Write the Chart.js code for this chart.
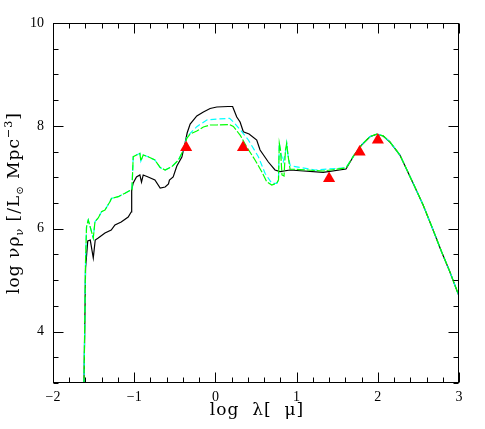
<!DOCTYPE html>
<html>
<head>
<meta charset="utf-8">
<script src="https://cdn.jsdelivr.net/npm/chart.js@4.4.1/dist/chart.umd.min.js"></script>
<style>
html,body{margin:0;padding:0;background:#fff;}
canvas{display:block;}
</style>
</head>
<body>
<canvas id="c" width="485" height="429"></canvas>
<script>
// ---- data (log lambda [micron], log nu rho_nu [L_sun Mpc^-3]) ----
const blackX = [-1.62,-1.599,-1.572,-1.541,-1.504,-1.480,-1.443,-1.360,-1.283,-1.237,-1.160,-1.074,-1.037,-1.031,-1.012,-0.972,-0.930,-0.910,-0.889,-0.828,-0.745,-0.680,-0.619,-0.578,-0.566,-0.520,-0.475,-0.413,-0.373,-0.348,-0.311,-0.229,-0.148,-0.065,0.017,0.156,0.212,0.263,0.304,0.344,0.415,0.509,0.550,0.652,0.734,0.796,0.919,1.328,1.608,1.697,1.801,1.903,1.985,2.066,2.149,2.272,2.435,2.558,2.681,2.785,2.887,3.0];
const blackY = [2.8,5.236,5.761,5.78,5.431,5.78,5.82,5.917,5.975,6.072,6.131,6.228,6.325,6.753,6.889,7.006,7.045,6.908,7.045,7.006,6.947,6.792,6.811,6.870,6.947,7.006,7.220,7.395,7.667,7.861,8.036,8.192,8.270,8.338,8.367,8.376,8.376,8.172,8.075,7.886,7.842,7.725,7.531,7.297,7.142,7.109,7.142,7.097,7.161,7.400,7.628,7.789,7.836,7.803,7.686,7.433,6.883,6.461,5.975,5.553,5.164,4.69];

const greenX = [-1.62,-1.599,-1.587,-1.566,-1.504,-1.483,-1.443,-1.402,-1.360,-1.299,-1.279,-1.197,-1.114,-1.041,-1.028,-1.012,-0.972,-0.930,-0.918,-0.889,-0.828,-0.745,-0.680,-0.619,-0.536,-0.455,-0.394,-0.352,-0.311,-0.229,-0.148,-0.065,0.017,0.175,0.221,0.304,0.386,0.488,0.571,0.632,0.694,0.755,0.777,0.787,0.802,0.820,0.845,0.863,0.878,0.894,0.919,1.042,1.325,1.608,1.697,1.801,1.903,1.985,2.066,2.149,2.272,2.435,2.558,2.681,2.785,2.887,3.0];
const greenY = [2.8,5.4,6.039,6.170,5.820,6.137,6.208,6.331,6.364,6.525,6.591,6.623,6.689,6.753,6.753,7.400,7.433,7.466,7.317,7.433,7.400,7.336,7.190,7.142,7.206,7.336,7.531,7.758,7.842,7.900,7.978,8.017,8.017,8.026,7.988,7.822,7.589,7.336,7.109,6.914,6.850,6.883,6.947,7.661,7.531,7.045,7.025,7.531,7.661,7.433,7.161,7.150,7.122,7.181,7.405,7.632,7.792,7.840,7.806,7.688,7.435,6.885,6.463,5.977,5.555,5.166,4.692];

const cyanX = [-1.62,-1.599,-1.587,-1.566,-1.504,-1.483,-1.443,-1.402,-1.360,-1.299,-1.279,-1.197,-1.114,-1.041,-1.028,-1.012,-0.972,-0.930,-0.918,-0.889,-0.828,-0.745,-0.680,-0.619,-0.536,-0.455,-0.394,-0.352,-0.311,-0.229,-0.106,0.017,0.175,0.237,0.325,0.406,0.529,0.611,0.694,0.755,0.777,0.787,0.800,0.836,0.865,0.878,0.894,0.919,0.940,1.226,1.608,1.697,1.801,1.903,1.985,2.066,2.149,2.272,2.435,2.558,2.681,2.785,2.887,3.0];
const cyanY = [2.8,5.4,6.039,6.170,5.820,6.137,6.208,6.331,6.364,6.525,6.591,6.623,6.689,6.753,6.753,7.400,7.433,7.466,7.317,7.433,7.400,7.336,7.190,7.142,7.206,7.336,7.531,7.780,7.855,7.984,8.114,8.133,8.147,8.050,7.886,7.725,7.400,7.078,6.883,6.883,6.950,7.667,7.500,7.303,7.500,7.661,7.430,7.239,7.220,7.142,7.185,7.405,7.632,7.792,7.840,7.806,7.688,7.435,6.885,6.463,5.977,5.555,5.166,4.692];

const obsX = [-0.36, 0.34, 1.40, 1.776, 2.001];
const obsY = [7.58, 7.58, 6.976, 7.49, 7.725];

const xTickVals = [-2,-1,0,1,2,3];
const xTickLabels = ['\u22122','\u22121','0','1','2','3'];
const yTickVals = [4,6,8,10];
const yTickLabels = ['4','6','8','10'];

function pts(xs, ys){ return xs.map((x,i)=>({x:x, y:ys[i]})); }

const SERIF = "'Liberation Serif','DejaVu Serif',serif";
const TITLE = "'DejaVu Serif','Liberation Serif',serif";

function drawRich(ctx, parts, cx, cy, base, spacing){
  let total = 0;
  ctx.letterSpacing = spacing + 'px';
  parts.forEach(p=>{ ctx.font = (base*(p.s||1)).toFixed(1)+'px '+TITLE; p.w = ctx.measureText(p.t).width; total += p.w; });
  let x = cx - total/2;
  parts.forEach(p=>{
    ctx.font = (base*(p.s||1)).toFixed(1)+'px '+TITLE;
    ctx.fillText(p.t, x, cy + (p.dy||0));
    x += p.w;
  });
  ctx.letterSpacing = '0px';
}

const framePlugin = {
  id: 'frame',
  afterDatasetsDraw(chart){
    const ctx = chart.ctx, a = chart.chartArea, xs = chart.scales.x, ys = chart.scales.y;
    ctx.save();
    ctx.strokeStyle = '#000';
    ctx.lineWidth = 1;
    const L = Math.round(a.left)+0.5, R = Math.round(a.right)-0.5, T = Math.round(a.top)+0.5, B = Math.round(a.bottom)-0.5;
    ctx.strokeRect(L, T, R-L, B-T);
    ctx.beginPath();
    // x ticks: major every 1, minor every 0.2
    for (let k = 0; k <= 25; k++){
      const v = -2 + k*0.2;
      const px = Math.round(xs.getPixelForValue(v)) + 0.5;
      const len = (k % 5 === 0) ? 10 : 5;
      ctx.moveTo(px, B); ctx.lineTo(px, B-len);
      ctx.moveTo(px, T); ctx.lineTo(px, T+len);
    }
    // y ticks: major at labelled values, minor every 0.5
    for (let k = 0; k <= 14; k++){
      const v = 3 + k*0.5;
      const py = Math.round(ys.getPixelForValue(v)) + 0.5;
      const len = yTickVals.includes(v) ? 10 : 5;
      ctx.moveTo(L, py); ctx.lineTo(L+len, py);
      ctx.moveTo(R, py); ctx.lineTo(R-len, py);
    }
    ctx.stroke();
    ctx.restore();
  },
  afterDraw(chart){
    const ctx = chart.ctx, a = chart.chartArea;
    ctx.save();
    ctx.fillStyle = '#000';
    ctx.textBaseline = 'alphabetic';
    // x title
    drawRich(ctx, [{t:'log  \u03bb[  \u03bc]'}], (a.left+a.right)/2 + 1, 415, 17, 1);
    // y title, rotated
    ctx.translate(19, 203);
    ctx.rotate(-Math.PI/2);
    drawRich(ctx, [
      {t:'log \u03bd\u03c1'},
      {t:'\u03bd', s:0.65, dy:4},
      {t:' [/L'},
      {t:'\u2299', s:0.6, dy:4},
      {t:' Mpc'},
      {t:'\u22123', s:0.65, dy:-7},
      {t:']'}
    ], 0, 0, 17, 1);
    ctx.restore();
  }
};

new Chart(document.getElementById('c'), {
  type: 'scatter',
  data: {
    datasets: [
      { label:'obs', data: pts(obsX, obsY), pointStyle:'triangle', pointRadius:7, pointBackgroundColor:'#ff0000', pointBorderColor:'#ff0000', pointBorderWidth:0, showLine:false, order:0 },
      { label:'green', data: pts(greenX, greenY), showLine:true, pointRadius:0, borderColor:'#00ff00', borderWidth:1.2, borderDash:[8,2], order:1 },
      { label:'cyan', data: pts(cyanX, cyanY), showLine:true, pointRadius:0, borderColor:'#00ffff', borderWidth:1.2, borderDash:[6,3], order:2 },
      { label:'black', data: pts(blackX, blackY), showLine:true, pointRadius:0, borderColor:'#000000', borderWidth:1.2, order:3 }
    ]
  },
  options: {
    responsive: false,
    animation: false,
    devicePixelRatio: 1,
    layout: { padding: { left: 0, right: 26, top: 23, bottom: 0 } },
    plugins: { legend: { display: false }, tooltip: { enabled: false } },
    scales: {
      x: {
        type: 'linear', min: -2, max: 3,
        grid: { display: false, drawTicks: false },
        border: { display: false },
        afterBuildTicks: s => { s.ticks = xTickVals.map(v => ({ value: v })); },
        afterFit: s => { s.height = 46; },
        ticks: { callback: (v, i) => xTickLabels[i], color: '#000', font: { family: SERIF, size: 14 }, padding: 6, maxRotation: 0, autoSkip: false }
      },
      y: {
        type: 'linear', min: 3, max: 10,
        grid: { display: false, drawTicks: false },
        border: { display: false },
        afterBuildTicks: s => { s.ticks = yTickVals.map(v => ({ value: v })); },
        afterFit: s => { s.width = 53; },
        ticks: { callback: (v, i) => yTickLabels[i], color: '#000', font: { family: SERIF, size: 14 }, padding: 9, autoSkip: false }
      }
    }
  },
  plugins: [framePlugin]
});
</script>
</body>
</html>
